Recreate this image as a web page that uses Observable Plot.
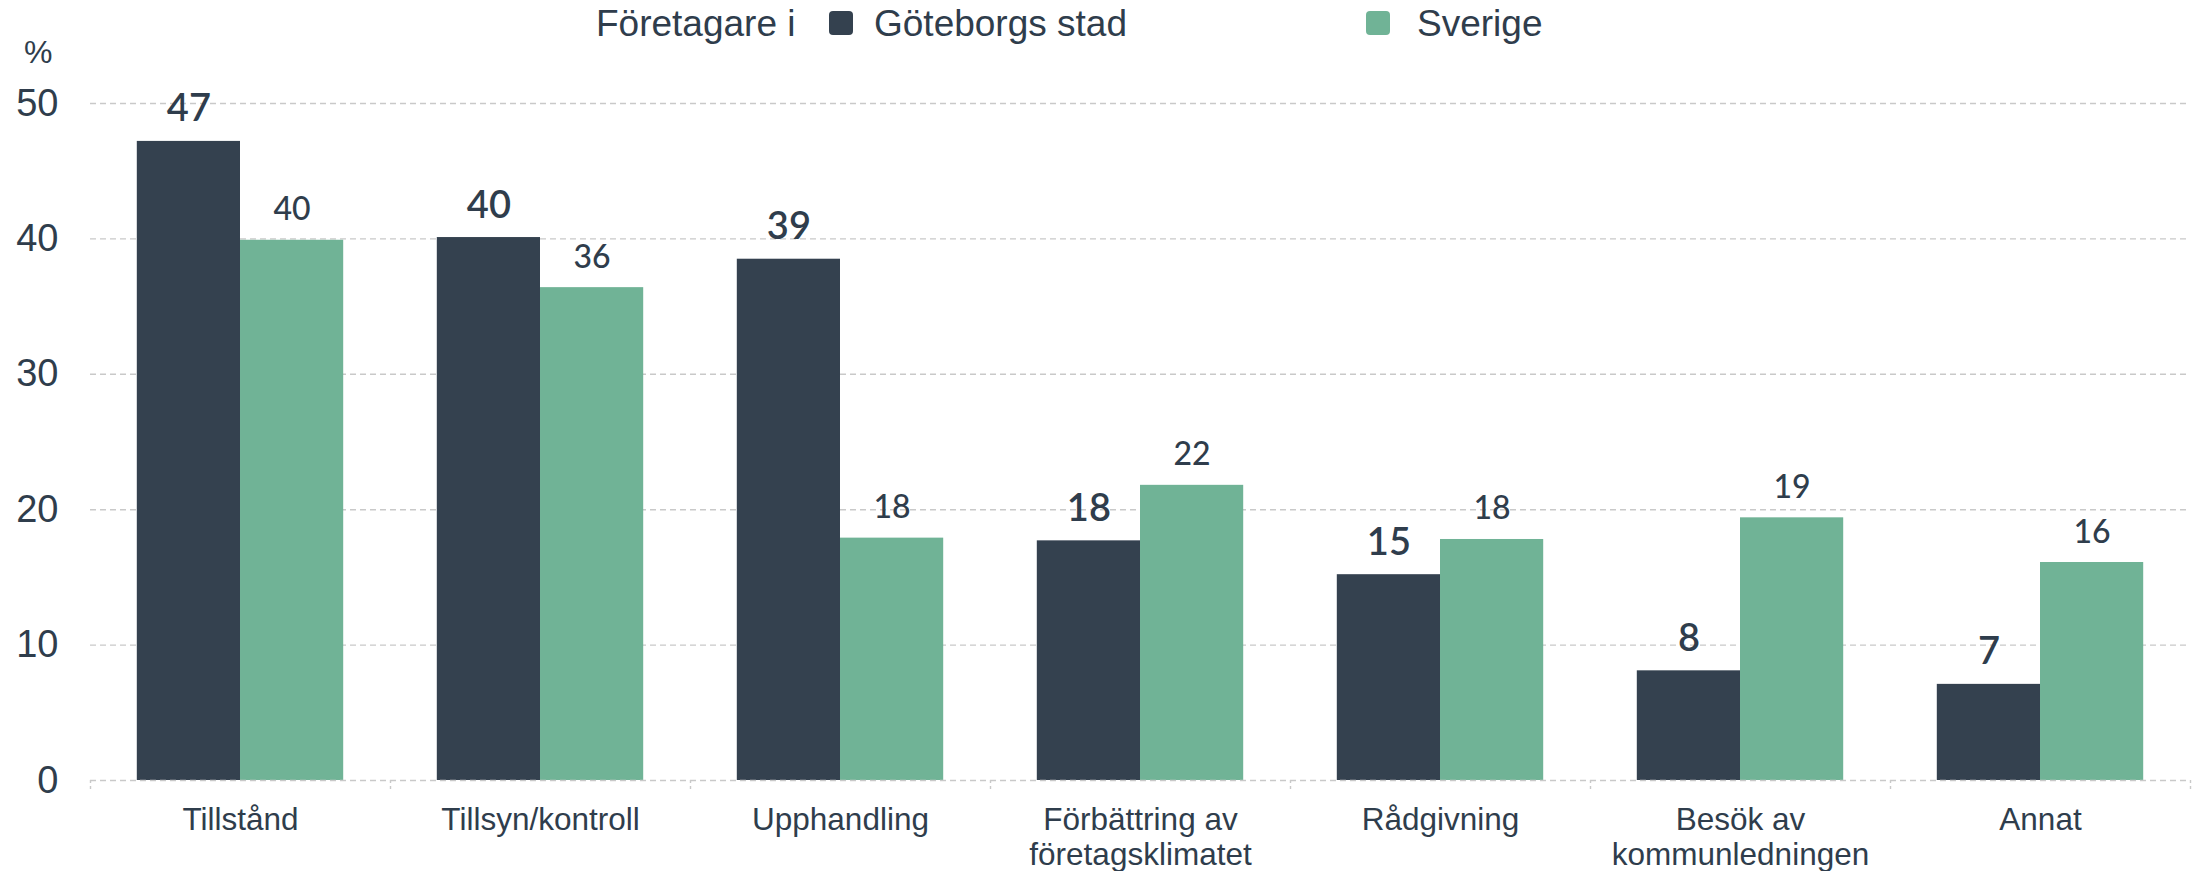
<!DOCTYPE html>
<html><head><meta charset="utf-8">
<script src="https://cdn.jsdelivr.net/npm/d3@7"></script>
<script src="https://cdn.jsdelivr.net/npm/@observablehq/plot@0.6"></script>
<style>
body{margin:0;background:#fff;}
#header{position:relative;height:70px;width:2193px;font-family:"Liberation Sans",Arial,sans-serif;color:#2f3d4c;}
#header .t{position:absolute;font-size:37px;line-height:37px;top:5px;white-space:nowrap;}
#header .sw{position:absolute;top:11px;width:24px;height:24px;border-radius:4px;}
#header .pct{position:absolute;top:36px;font-size:32px;line-height:32px;}
#chart svg{display:block;}
</style></head><body>
<div id="header"></div>
<div id="chart"></div>
<script>
const categories = ["Tillstånd","Tillsyn/kontroll","Upphandling","Förbättring av\nföretagsklimatet","Rådgivning","Besök av\nkommunledningen","Annat"];
const series = ["Göteborgs stad","Sverige"];
const goteborg = [47.2,40.1,38.5,17.7,15.2,8.1,7.1];
const sverige = [39.9,36.4,17.9,21.8,17.8,19.4,16.1];
const yTicks = [0,10,20,30,40,50];
const colors = ["#34414f","#70b396"];
const legendTitle = "Företagare i";
const yUnit = "%";

// header / legend
const header = document.getElementById("header");
function add(cls, left, text, bg){
  const el = document.createElement("div");
  el.className = cls; el.style.left = left + "px";
  if (text) el.textContent = text;
  if (bg) el.style.background = bg;
  header.appendChild(el);
}
add("t", 596, legendTitle);
add("sw", 829, null, colors[0]);
add("t", 874, series[0]);
add("sw", 1366, null, colors[1]);
add("t", 1417, series[1]);
add("pct", 24, yUnit);

const rows = [];
categories.forEach((c,i)=>{
  rows.push({category:c, series:series[0], value:goteborg[i]});
  rows.push({category:c, series:series[1], value:sverige[i]});
});
const G = rows.filter(d=>d.series===series[0]);
const S = rows.filter(d=>d.series===series[1]);

const W=2193, H=801, mL=90, mR=3, mT=33, mB=91;
const step = (W-mL-mR)/categories.length;
const barW = step*0.344;
const gap = (step-2*barW)/2;
const grid = {stroke:"#c9c9c9", strokeOpacity:1, strokeDasharray:"6,4", strokeWidth:1.4};
const textColor = "#2f3d4c";

const chart = Plot.plot({
  width:W, height:H, marginLeft:mL, marginRight:mR, marginTop:mT, marginBottom:mB,
  style:{fontFamily:"'Liberation Sans', Arial, sans-serif", fontSize:"31px", color:textColor, background:"#fff"},
  x:{domain:categories, padding:0, label:null},
  y:{domain:[0,50], label:null},
  marks:[
    Plot.gridY(yTicks.filter(v=>v>0), grid),
    Plot.barY(G, {x:"category", y:"value", fill:colors[0], insetLeft:gap, insetRight:step-gap-barW}),
    Plot.barY(S, {x:"category", y:"value", fill:colors[1], insetLeft:gap+barW, insetRight:gap}),
    Plot.ruleY([0], grid),
    Plot.ruleX(categories, {x:d=>d, y1:0, y2:-0.66, dx:-step/2, ...grid, strokeDasharray:"3,3"}),
    Plot.ruleX(categories.slice(-1), {x:d=>d, y1:0, y2:-0.66, dx:step/2, ...grid, strokeDasharray:"3,3"}),
    Plot.text(G, {x:"category", y:"value", text:d=>String(Math.round(d.value)), dx:gap+barW/2-step/2, lineAnchor:"bottom", dy:-20, fontFamily:"Lato, sans-serif", fontWeight:600, fontSize:38, fill:textColor}),
    Plot.text(S, {x:"category", y:"value", text:d=>String(Math.round(d.value)), dx:gap+barW*1.5-step/2, lineAnchor:"bottom", dy:-20, fontFamily:"Lato, sans-serif", fontWeight:500, fontSize:32, fill:textColor}),
    Plot.axisX({tickSize:0, tickPadding:25, fontSize:31.5, lineHeight:1.11}),
    Plot.axisY(yTicks, {tickSize:0, tickPadding:32, fontSize:38})
  ]
});
document.getElementById("chart").appendChild(chart);
</script>
</body></html>
